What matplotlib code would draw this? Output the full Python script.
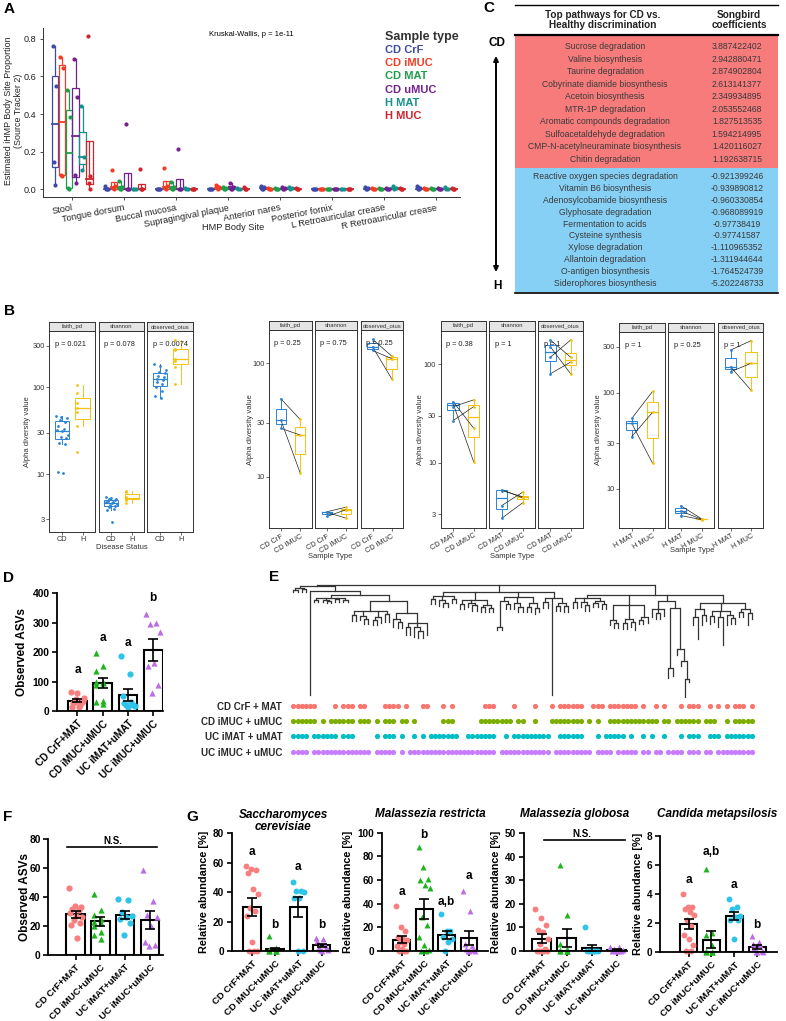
"""Multi-panel figure A-G (SourceTracker, songbird table, alpha diversity,
ASV bars, dendrogram and fungal abundances). Writes out.png."""
import numpy as np
import matplotlib
matplotlib.use("Agg")
import matplotlib.pyplot as plt
from matplotlib.patches import Rectangle
from matplotlib.ticker import NullLocator

plt.rcParams["font.family"] = ["Liberation Sans", "DejaVu Sans"]

# ---------------- panel A: estimated body site proportions
A_SITES = ["Stool", "Tongue dorsum", "Buccal mucosa", "Supragingival plaque",
           "Anterior nares", "Posterior fornix", "L Retroauricular crease",
           "R Retroauricular crease"]
A_GROUPS = ["CD CrF", "CD iMUC", "CD MAT", "CD uMUC", "H MAT", "H MUC"]
A_COLORS = ["#3E4BA6", "#F43C24", "#1E9E4A", "#74208F", "#14918A", "#D1232A"]
A_CD_CRF = [[0.759, 0.548, 0.147, 0.025], [0.02, 0, 0, 0], [0, 0, 0, 0], [0, 0, 0, 0],
            [0.02, 0.01, 0, 0], [0, 0, 0, 0], [0.01, 0.005, 0, 0], [0.015, 0.005, 0, 0]]
A_CD_IMUC = [[0.705, 0.643, 0.075, 0.068], [0.10, 0.02, 0.005, 0], [0.112, 0.02, 0.005, 0],
             [0.025, 0.01, 0.005, 0], [0.005, 0, 0, 0], [0, 0, 0, 0], [0.005, 0, 0, 0],
             [0.005, 0, 0, 0]]
A_CD_MAT = [[0.526, 0.383, 0.007, 0.002], [0.045, 0.01, 0, 0], [0.04, 0.01, 0, 0],
            [0.01, 0.005, 0, 0], [0.005, 0, 0, 0], [0, 0, 0, 0], [0.005, 0, 0, 0],
            [0.005, 0, 0, 0]]
A_CD_UMUC = [[0.691, 0.490, 0.075, 0.034], [0.345, 0, 0, 0], [0.213, 0, 0, 0],
             [0.035, 0.01, 0, 0], [0.01, 0.005, 0, 0], [0, 0, 0, 0], [0.005, 0, 0, 0],
             [0.005, 0, 0, 0]]
A_H_MAT = [[0.44, 0.172, 0.10], [0, 0, 0], [0.005, 0, 0], [0.005, 0, 0], [0.01, 0.005, 0],
           [0, 0, 0], [0.015, 0.005, 0], [0.01, 0, 0]]
A_H_MUC = [[0.816, 0.07, 0.034, 0.002], [0.107, 0, 0, 0], [0, 0, 0, 0], [0.01, 0, 0, 0],
           [0.005, 0, 0, 0], [0, 0, 0, 0], [0.005, 0, 0, 0], [0.005, 0, 0, 0]]
A_DATA = [A_CD_CRF, A_CD_IMUC, A_CD_MAT, A_CD_UMUC, A_H_MAT, A_H_MUC]

# ---------------- panel C: songbird table
C_CD_PATHWAYS = ["Sucrose degradation", "Valine biosynthesis", "Taurine degradation",
                 "Cobyrinate diamide biosynthesis", "Acetoin biosynthesis",
                 "MTR-1P degradation", "Aromatic compounds degradation",
                 "Sulfoacetaldehyde degradation", "CMP-N-acetylneuraminate biosynthesis",
                 "Chitin degradation"]
C_CD_COEF = [3.887422402, 2.942880471, 2.874902804, 2.613141377, 2.349934895,
             2.053552468, 1.827513535, 1.594214995, 1.420116027, 1.192638715]
C_H_PATHWAYS = ["Reactive oxygen species degradation", "Vitamin B6 biosynthesis",
                "Adenosylcobamide biosynthesis", "Glyphosate degradation",
                "Fermentation to acids", "Cysteine synthesis", "Xylose degradation",
                "Allantoin degradation", "O-antigen biosynthesis",
                "Siderophores biosynthesis"]
C_H_COEF = [-0.921399246, -0.939890812, -0.960330854, -0.968089919, -0.97738419,
            -0.97741587, -1.110965352, -1.311944644, -1.764524739, -5.202248733]

# ---------------- panel B: alpha diversity (faith_pd, shannon, observed_otus)
B_METRICS = ["faith_pd", "shannon", "observed_otus"]
B1_CD = [[47, 45, 44, 42, 40, 36, 33, 32, 31, 28, 27, 26, 23, 22, 10.6, 10.4],
         [5.4, 5.3, 5.2, 5.1, 5.0, 4.9, 4.8, 4.7, 4.6, 4.5, 4.4, 4.3, 4.2, 4.0, 3.8, 2.8],
         [185, 175, 160, 150, 145, 135, 130, 125, 120, 115, 110, 100, 90, 80, 75]]
B1_H = [[105, 85, 66, 57, 52, 36, 18],
        [6.3, 6.2, 5.5, 5.3, 5.2, 5.0, 4.6],
        [350, 280, 270, 210, 200, 170, 110]]
B1_P = ["p = 0.021", "p = 0.078", "p = 0.0074"]
B2_CRF = [[48.7, 31.6, 26.7], [4.9, 4.85, 4.45], [163, 140, 130]]
B2_IMUC = [[32, 10.8, 23.3], [5.37, 4.3, 5.1], [116, 73, 110]]
B2_P = ["p = 0.25", "p = 0.75", "p = 0.25"]
B3_MAT = [[41.7, 40, 37, 26.7], [5.3, 5.2, 3.66, 2.72], [176, 150, 118, 80]]
B3_UMUC = [[22.4, 10.2, 43.4, 37], [4.4, 4.5, 5.0, 3.9], [118, 80, 176, 105]]
B3_P = ["p = 0.38", "p = 1", "p = 1"]
B4_MAT = [[54, 48, 35], [6.7, 5.9, 5.3], [277, 186, 165]]
B4_MUC = [[103, 18.5, 62.5], [4.9, 4.85, 4.8], [347, 106, 202]]
B4_P = ["p = 1", "p = 0.25", "p = 1"]
B_BLUE, B_GOLD = "#2C83D3", "#F5C211"

# ---------------- panels D, F, G: bar + scatter plots
GROUPS4 = ["CD CrF+MAT", "CD iMUC+uMUC", "UC iMAT+uMAT", "UC iMUC+uMUC"]
MARK4 = ["o", "^", "o", "^"]
COL4 = ["#F77F7F", "#1DB51D", "#2EC3E8", "#BC6EE6"]
D_ASV = [[65, 60, 45, 42, 35, 32, 30, 28, 22, 15, 12],
         [198, 152, 136, 100, 97, 95, 90, 35, 30, 25],
         [187, 125, 50, 32, 28, 22, 20, 18, 15],
         [329, 300, 294, 270, 162, 153, 88, 62]]
D_LETTERS = ["a", "a", "a", "b"]
F_ASV = [[46, 34, 33, 32, 31, 29, 27, 26, 24, 22, 21, 12],
         [42, 31, 28, 25, 23, 22, 20, 16, 14, 11],
         [39, 38, 30, 27, 26, 25, 22, 14],
         [59, 37, 28, 26, 20, 9, 7, 6]]
G_TITLES = ["Saccharomyces\ncerevisiae", "Malassezia restricta", "Malassezia globosa",
            "Candida metapsilosis"]
G_SACCH = [[58, 56, 55, 53, 42, 39, 29, 27, 24, 6, 0, 0, 0],
           [10, 2, 1, 0.5, 0.5, 0, 0, 0, 0, 0],
           [47, 41, 41, 40, 36, 36, 0, 0],
           [9, 8, 7, 4, 3, 2, 1, 0.5, 0]]
G_MRES = [[38, 20, 17, 12, 10, 9, 8, 6, 4, 2, 0, 0, 0],
          [88, 71, 61, 60, 56, 53, 29, 22, 12, 5, 1, 0, 0],
          [31, 17, 17, 12, 10, 8, 0],
          [51, 34, 6, 4, 2, 1, 0, 0, 0]]
G_MGLO = [[18, 14, 11, 9, 8, 5, 3, 1, 0, 0, 0, 0, 0],
          [36.5, 15.5, 3, 1, 0.5, 0, 0, 0, 0, 0],
          [10, 0, 0, 0, 0, 0, 0, 0],
          [1.5, 1.5, 1, 0.5, 0, 0, 0, 0]]
G_CMET = [[4.0, 3.1, 3.1, 3.0, 2.8, 2.6, 2.2, 1.8, 1.2, 0.9, 0.5, 0.1, 0.1],
          [5.7, 1.3, 1.2, 0.5, 0.1, 0, 0, 0, 0, 0],
          [3.7, 3.1, 3.0, 2.5, 2.4, 2.2, 2.2, 0.9],
          [1.1, 0.7, 0.6, 0.5, 0.3, 0.1, 0, 0, 0]]
G_LETTERS = [["a", "b", "a", "b"], ["a", "b", "a,b", "a"], None, ["a", "a,b", "a", "b"]]

# ---------------- panel E: ASV tree (newick-ish, branch lengths) + presence rows
E_CLADE_A = ("(((:2,:2):2,(:3,:3):1):2,"
             "(:104,(((:2,:2):2,(:2,(:2,:2):1):2,(:3,:3):1,(:2,:2):2):3,"
             "(((:6,:6):4,(:4,(:5,:5):3):5,((:5,:5):3,:6):6,(:8,:8):3):10,"
             "((:8,(:6,:6):3):6,((:8,:8):4,(:10,(:7,:7):4):4,:12):10):12):6):4):5):1")
E_CLADE_B = ("(((:5,:5):3,(:6,(:4,:4):3):4,(:4,:4):3):4,"
             "((:5,:5):4,(:4,(:6,:6):2):3,((:5,:5):2,(:4,:4):3):5):8,"
             "(((:3,:3):26,(:5,:5):3):4,(:6,(:5,:5):4):6,((:5,:5):4,(:6,:4):5):6):5,"
             "((:6,:6):4,:97,((:5,:5):3,(:6,:6):3):5):6):7")
E_CLADE_C = ("(((:6,:6):4,(:5,(:6,:6):3):4,((:4,:4):2,(:5,:5):3):3):3,"
             "((:5,(:5,:5):3):15,((:6,:6):4,(:5,:8):3):14,((:4,:4):3,:6):12):10,"
             "((:8,(:6,:6):4,:7):8,((:10,:8):60,(:6,(:5,(:18,:3):18):12):41):7):6,"
             "(((:8,:22):8,(:10,:6):6):6,((:8,:6):5,(:10,:28):6,(:10,(:6,:6):3):4):8,"
             "((:5,:5):3,(:12,:6):4):6):8):10")
E_ROWS = ["CD CrF + MAT", "CD iMUC + uMUC", "UC iMAT + uMAT", "UC iMUC + uMUC"]
E_COLORS = ["#F8766D", "#7CAE00", "#00BFC4", "#C77CFF"]
E_RUNS = [
    [(0, 5), (10, 10), (12, 14), (16, 17), (22, 24), (25, 25), (27, 27), (31, 32),
     (36, 36), (38, 38), (46, 48), (53, 53), (58, 58), (62, 62), (64, 69), (72, 74),
     (76, 82), (84, 84), (87, 87), (89, 89), (93, 93), (95, 97), (100, 100), (102, 102),
     (104, 104), (106, 108), (110, 110)],
    [(0, 5), (7, 7), (9, 14), (16, 18), (20, 20), (22, 24), (26, 27), (29, 29),
     (36, 38), (45, 52), (54, 55), (58, 58), (62, 69), (71, 71), (73, 73), (76, 87),
     (89, 90), (92, 97), (99, 101), (104, 104), (106, 110)],
    [(0, 3), (5, 10), (12, 14), (20, 20), (22, 24), (26, 26), (29, 29), (31, 31),
     (33, 39), (42, 48), (51, 51), (53, 61), (64, 69), (73, 73), (75, 79), (81, 81),
     (84, 84), (86, 86), (89, 89), (93, 93), (95, 97), (100, 102), (104, 110)],
    [(0, 3), (5, 18), (20, 24), (26, 26), (28, 48), (50, 61), (63, 71), (73, 76),
     (78, 82), (84, 85), (87, 88), (90, 93), (95, 97), (99, 100), (102, 110)],
]

W, H = 786, 1021
fig = plt.figure(figsize=(W / 100, H / 100), dpi=100)


def pax(x0, y0, x1, y1, **kw):
    return fig.add_axes([x0 / W, 1 - y1 / H, (x1 - x0) / W, (y1 - y0) / H], **kw)


def ftext(x, y, s, **kw):
    kw.setdefault("ha", "center")
    kw.setdefault("va", "center")
    fig.text(x / W, 1 - y / H, s, **kw)


def box(ax, x, vals, color, width, log=False, lw=0.8, mlw=1.1):
    v = np.log10(vals) if log else np.asarray(vals, float)
    q1, med, q3 = np.percentile(v, [25, 50, 75])
    iqr = q3 - q1
    lo = v[v >= q1 - 1.5 * iqr].min()
    hi = v[v <= q3 + 1.5 * iqr].max()
    if log:
        q1, med, q3, lo, hi = 10 ** np.array([q1, med, q3, lo, hi])
    ax.add_patch(Rectangle((x - width / 2, q1), width, q3 - q1, fill=False,
                           ec=color, lw=lw, zorder=2))
    ax.plot([x - width / 2, x + width / 2], [med, med], color=color, lw=mlw, zorder=3)
    ax.plot([x, x], [q3, hi], color=color, lw=lw, zorder=2)
    ax.plot([x, x], [lo, q1], color=color, lw=lw, zorder=2)


# ================= A
ax = pax(43, 28, 460, 197)
n_grp = len(A_GROUPS)
dodge = 0.8 / n_grp
jit = [-0.025, 0.02, -0.01, 0.01]
for g, (vals, col) in enumerate(zip(A_DATA, A_COLORS)):
    for s, v in enumerate(vals):
        xc = s + 1 - 0.4 + dodge * (g + 0.5)
        box(ax, xc, v, col, dodge * 0.9, lw=0.9, mlw=1.3)
        ax.scatter([xc + jit[i % 4] for i in range(len(v))], v, s=9, color=col,
                   lw=0, zorder=4)
ax.set_xlim(0.44, 8.46)
ax.set_ylim(-0.041, 0.857)
ax.set_yticks([0, 0.2, 0.4, 0.6, 0.8])
ax.set_yticklabels(["0.0", "0.2", "0.4", "0.6", "0.8"])
ax.set_xticks(range(1, 9))
ax.set_xticklabels(A_SITES, rotation=11, ha="right", rotation_mode="anchor")
ax.tick_params(labelsize=6.6, length=2.5, width=0.6, pad=2, colors="#333333",
               labelcolor="#222222")
for sp in ["top", "right"]:
    ax.spines[sp].set_visible(False)
for sp in ["left", "bottom"]:
    ax.spines[sp].set_color("#333333")
    ax.spines[sp].set_linewidth(0.7)
ftext(13.5, 111, "Estimated iHMP Body Site Proportion\n(Source Tracker 2)", fontsize=6.4,
      rotation=90, linespacing=1.05, color="#222222")
ftext(233, 227, "HMP Body Site", fontsize=6.6, color="#222222")
ax.text(0.5, 0.96, "Kruskal-Wallis, p = 1e-11", transform=ax.transAxes, fontsize=5.5,
        ha="center", va="center")
ftext(385, 37, "Sample type", ha="left", fontsize=9, fontweight="bold", color="#333333")
for i, (g, c) in enumerate(zip(A_GROUPS, A_COLORS)):
    ftext(385, 50 + 13.2 * i, g, ha="left", fontsize=8, fontweight="bold", color=c)

# ================= C
axc = pax(487, 0, 786, 300)
axc.set_xlim(487, 786)
axc.set_ylim(300, 0)
axc.axis("off")
axc.add_patch(Rectangle((515, 36), 263, 132, color="#F77B7B", lw=0))
axc.add_patch(Rectangle((515, 168), 263, 124.5, color="#87D0F5", lw=0))
axc.plot([515, 778], [4.7, 4.7], color="black", lw=1.0)
axc.plot([515, 778], [35.5, 35.5], color="black", lw=1.6)
axc.plot([515, 778], [292.8, 292.8], color="black", lw=1.2)
axc.text(603, 20, "Top pathways for CD vs.\nHealthy discrimination", fontsize=7.2,
         fontweight="bold", ha="center", va="center", linespacing=1.0, color="#222222")
axc.text(739, 20, "Songbird\ncoefficients", fontsize=7.2, fontweight="bold",
         ha="center", va="center", linespacing=1.0, color="#222222")
for yy, name, coef in zip(np.linspace(46.7, 159, 10), C_CD_PATHWAYS, C_CD_COEF):
    axc.text(605, yy, name, fontsize=6.2, ha="center", va="center", color="#3a3a3a")
    axc.text(737, yy, f"{coef}", fontsize=6.2, ha="center", va="center", color="#3a3a3a")
for yy, name, coef in zip(np.linspace(176.7, 283.3, 10), C_H_PATHWAYS, C_H_COEF):
    axc.text(605, yy, name, fontsize=6.2, ha="center", va="center", color="#3a3a3a")
    axc.text(737, yy, f"{coef}", fontsize=6.2, ha="center", va="center", color="#3a3a3a")
axc.text(497, 43, "CD", fontsize=8.5, fontweight="bold", ha="center", va="center")
axc.text(497, 286, "H", fontsize=8.5, fontweight="bold", ha="center", va="center")
axc.annotate("", xy=(496, 272), xytext=(496, 56),
             arrowprops=dict(arrowstyle="<|-|>", color="black", lw=1.4,
                             mutation_scale=7, shrinkA=0, shrinkB=0))


# ================= B
def facet_group(facets, strip_top, strip_bot, bottom, ylim, yticks, left, right, pvals,
                xt, paired, rot, bw, xlab, xlab_xy, ylab_x):
    for k, (fx0, fx1) in enumerate(facets):
        ax = pax(fx0, strip_bot, fx1, bottom)
        ax.set_yscale("log")
        ax.set_ylim(*ylim)
        ax.set_xlim(0.4, 2.6)
        for x, vals, col in ((1, left[k], B_BLUE), (2, right[k], B_GOLD)):
            box(ax, x, vals, col, bw, log=True, lw=0.7, mlw=0.9)
            n = len(vals)
            if paired:
                off = np.zeros(n)
            else:
                off = (((np.arange(n) * 7) % n) / max(n - 1, 1) - 0.5) * bw * 0.8
            ax.scatter(x + off, vals, s=4, color=col, lw=0, zorder=5)
        if paired:
            for a, b in zip(left[k], right[k]):
                ax.plot([1, 2], [a, b], color="#222222", lw=0.5, zorder=4)
        ax.text(0.12, 0.93, pvals[k], transform=ax.transAxes, fontsize=5.3,
                ha="left", va="center", color="#222222")
        ax.yaxis.set_minor_locator(NullLocator())
        ax.set_yticks(yticks)
        ax.set_yticklabels([str(t) for t in yticks] if k == 0 else [])
        ax.set_xticks([1, 2])
        if rot:
            ax.set_xticklabels(xt, rotation=rot, ha="right", rotation_mode="anchor")
        else:
            ax.set_xticklabels(xt)
        ax.tick_params(labelsize=5.3, length=2, width=0.5, pad=1.2,
                       colors="#333333", labelcolor="#333333")
        if k > 0:
            ax.tick_params(axis="y", length=0)
        for sp in ax.spines.values():
            sp.set_color("#333333")
            sp.set_linewidth(0.7)
        st = pax(fx0, strip_top, fx1, strip_bot)
        st.set_facecolor("#E5E5E5")
        st.set_xticks([])
        st.set_yticks([])
        for sp in st.spines.values():
            sp.set_color("#333333")
            sp.set_linewidth(0.7)
        st.text(0.5, 0.5, B_METRICS[k], fontsize=4.2, ha="center", va="center",
                transform=st.transAxes, color="#333333")
    ftext(xlab_xy[0], xlab_xy[1], xlab, fontsize=5.5, color="#333333")
    ftext(ylab_x, (strip_bot + bottom) / 2, "Alpha diversity value", rotation=90,
          fontsize=5.5, color="#333333")


facet_group([(49.3, 95.3), (99, 144), (147.3, 193.3)], 322, 330.7, 531.7, (2.16, 450),
            [3, 10, 30, 100, 300], B1_CD, B1_H, B1_P, ["CD", "H"], False, 0, 0.7,
            "Disease Status", (121.7, 547.5), 28)
facet_group([(269.3, 311.7), (315.3, 357.3), (361, 403.3)], 320.7, 330, 528.3, (3.5, 197),
            [10, 30, 100], B2_CRF, B2_IMUC, B2_P, ["CD CrF", "CD iMUC"], True, 30, 0.55,
            "Sample Type", (330, 556), 250)
facet_group([(440.7, 486), (489.3, 535), (538.3, 582.7)], 320.7, 330.7, 527.7, (2.18, 219),
            [3, 10, 30, 100], B3_MAT, B3_UMUC, B3_P, ["CD MAT", "CD uMUC"], True, 30, 0.55,
            "Sample Type", (511.7, 556), 420)
facet_group([(619.3, 665), (668.3, 714), (718.3, 763.3)], 322.7, 331.7, 527.7, (3.96, 430),
            [10, 30, 100, 300], B4_MAT, B4_MUC, B4_P, ["H MAT", "H MUC"], True, 30, 0.55,
            "Sample Type", (691.7, 551), 598)


# ================= D, F, G
def prism(ax, groups, ylim, yticks, xlim, ylabel, letters=None, letter_y=None,
          spread=0.55, ms=20, xfs=7.2, yfs=7.4):
    for i, v in enumerate(groups):
        v = np.asarray(v, float)
        m = v.mean()
        se = v.std(ddof=1) / np.sqrt(len(v))
        ax.bar(i, m, width=0.75, color="white", edgecolor="black", lw=1.5, zorder=1)
        n = len(v)
        off = (((np.arange(n) * 5) % n) / max(n - 1, 1) - 0.5) * spread
        ax.scatter(i + off, v, marker=MARK4[i], s=ms, color=COL4[i], lw=0, zorder=2,
                   clip_on=False)
        ax.errorbar(i, m, yerr=se, color="black", capsize=3.5, lw=1.2, capthick=1.2,
                    zorder=3)
        if letters:
            ax.text(i, letter_y[i], letters[i], fontsize=8.5, fontweight="bold",
                    ha="center", va="center")
    ax.set_xlim(*xlim)
    ax.set_ylim(*ylim)
    ax.set_yticks(yticks)
    ax.set_xticks(range(4))
    ax.set_xticklabels(GROUPS4, rotation=45, ha="right", rotation_mode="anchor")
    ax.tick_params(length=3.5, width=1.2, pad=2)
    ax.tick_params(axis="x", labelsize=xfs)
    ax.tick_params(axis="y", labelsize=yfs)
    for lab in ax.get_xticklabels() + ax.get_yticklabels():
        lab.set_fontweight("bold")
    for sp in ["top", "right"]:
        ax.spines[sp].set_visible(False)
    for sp in ["left", "bottom"]:
        ax.spines[sp].set_linewidth(1.3)
    ax.set_ylabel(ylabel, fontsize=8.5 if "ASV" in ylabel else 7.8, fontweight="bold",
                  labelpad=3)


axd = pax(57.3, 593.3, 163.3, 711)
prism(axd, D_ASV, (0, 400), [0, 100, 200, 300, 400], (-0.8, 3.4), "Observed ASVs",
      D_LETTERS, [139, 249, 232, 383])

axf = pax(48.3, 839.3, 163.3, 955)
prism(axf, F_ASV, (0, 80), [0, 20, 40, 60, 80], (-1.1, 3.54), "Observed ASVs", xfs=6.8)
axf.yaxis.set_label_coords(-0.15, 0.5)
axf.plot([-0.35, 3.3], [75, 75], color="black", lw=1.2)
axf.text(1.5, 79, "N.S.", fontsize=7, fontweight="bold", ha="center", va="center")

g_boxes = [(231.7, 833.3, 338.3, 951), (381.7, 832.7, 488.3, 951),
           (524, 833.3, 626.7, 951), (660, 836, 776.7, 952.3)]
g_ylims = [(0, 80), (0, 100), (0, 50), (0, 8)]
g_ticks = [[0, 20, 40, 60, 80], [0, 20, 40, 60, 80, 100], [0, 10, 20, 30, 40, 50],
           [0, 2, 4, 6, 8]]
g_xlims = [(-0.86, 3.71), (-0.89, 3.86), (-0.71, 3.4), (-1.25, 3.85)]
g_lety = [[67.5, 18, 57, 18], [50, 98, 41.7, 63.7], None, [5.0, 6.9, 4.6, 1.9]]
g_title_xy = [(283, 821), (430, 814), (575, 814), (717, 814)]
for k, data in enumerate([G_SACCH, G_MRES, G_MGLO, G_CMET]):
    axg = pax(*g_boxes[k])
    prism(axg, data, g_ylims[k], g_ticks[k], g_xlims[k], "Relative abundance [%]",
          G_LETTERS[k], g_lety[k], spread=0.5, ms=18, xfs=6.8, yfs=7.2)
    ftext(g_title_xy[k][0], g_title_xy[k][1], G_TITLES[k], fontsize=8.5,
          fontweight="bold", style="italic", linespacing=1.05)
    if G_LETTERS[k] is None:
        axg.plot([0.1, 3.35], [47, 47], color="black", lw=1.2)
        axg.text(1.6, 49.5, "N.S.", fontsize=7, fontweight="bold", ha="center",
                 va="center")


# ================= E
def newick(s):
    pos = 0

    def node():
        nonlocal pos
        kids = []
        if s[pos] == "(":
            pos += 1
            kids.append(node())
            while s[pos] == ",":
                pos += 1
                kids.append(node())
            pos += 1
        length = 0.0
        if pos < len(s) and s[pos] == ":":
            pos += 1
            j = pos
            while pos < len(s) and s[pos] not in ",)":
                pos += 1
            length = float(s[j:pos])
        return length, kids
    return node()


def draw_tree(ax, node, y0, nxt):
    length, kids = node
    y = y0 + length
    if kids:
        xs = [draw_tree(ax, kid, y, nxt) for kid in kids]
        ax.plot([xs[0], xs[-1]], [y, y], color="#333333", lw=0.9, solid_capstyle="butt")
        x = (xs[0] + xs[-1]) / 2
    else:
        x = nxt[0]
        nxt[0] += 1
    ax.plot([x, x], [y0, y], color="#333333", lw=0.9)
    return x


tree = newick("(" + E_CLADE_A + "," + E_CLADE_B + "," + E_CLADE_C + ")")
axt = pax(285, 578, 760, 698)
counter = [0]
draw_tree(axt, tree, 0.0, counter)
n_leaf = counter[0]
axt.set_xlim(-2.0, 112.0)
axt.set_ylim(113, -7)
axt.axis("off")

axe = pax(285, 698, 760, 760)
for r, runs in enumerate(E_RUNS):
    cols = [c for a, b in runs for c in range(a, b + 1) if c < n_leaf]
    axe.scatter(cols, [r] * len(cols), s=14, color=E_COLORS[r], lw=0)
axe.set_xlim(-2.0, 112.0)
axe.set_ylim(3.55, -0.5)
axe.set_yticks(range(4))
axe.set_yticklabels(E_ROWS, fontsize=7, fontweight="bold", color="#2a2a2a")
axe.set_xticks([])
axe.tick_params(length=0, pad=2)
for sp in axe.spines.values():
    sp.set_visible(False)

# panel letters
for x, y, s in [(4, 9, "A"), (483, 8, "C"), (4, 311, "B"), (3, 578, "D"),
                (269, 577, "E"), (3, 817, "F"), (186, 817, "G")]:
    ftext(x, y, s, ha="left", fontsize=11, fontweight="bold")

fig.savefig("out.png", dpi=100, facecolor="white")
